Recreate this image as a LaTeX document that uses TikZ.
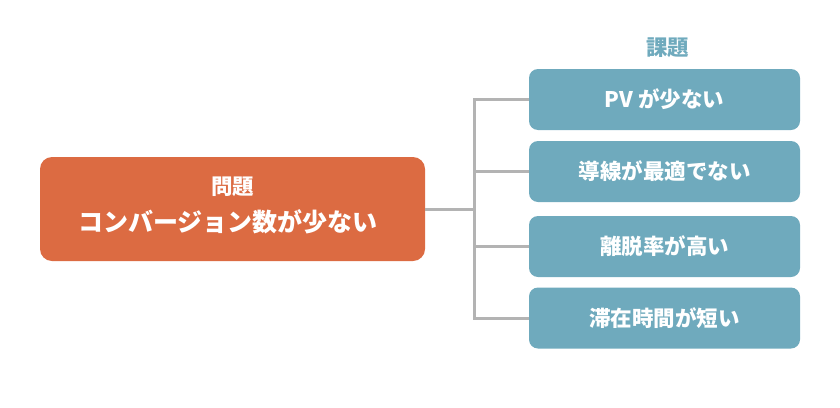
\documentclass[tikz,border=0pt]{standalone}
\usepackage{fontspec}
\newfontfamily\jp{Noto Sans CJK JP}
\definecolor{probcolor}{HTML}{DC6B42}
\definecolor{taskcolor}{HTML}{6FAABD}
\definecolor{linecolor}{HTML}{B3B3B3}
\tikzset{
  probbox/.style={fill=probcolor, rounded corners=12pt, minimum width=385pt, minimum height=104pt, inner sep=0pt},
  taskbox/.style={fill=taskcolor, rounded corners=9pt, minimum width=271pt, minimum height=61pt, inner sep=0pt,
    text=white, font=\jp\bfseries\fontsize{21.5}{25}\selectfont},
  conn/.style={draw=linecolor, line width=3pt}
}
\begin{document}
\begin{tikzpicture}[x=1pt, y=-1pt]

  \useasboundingbox (0,0) rectangle (840,407);

  % problem on the left
  \node[probbox] (prob) at (232.5,209) {};
  \node[text=white, font=\jp\bfseries\fontsize{21.5}{25}\selectfont] (probhead) at (232.5,187) {問題};
  \node[text=white, font=\jp\bfseries\fontsize{25}{29}\selectfont] (probtext) at (228,222) {コンバージョン数が少ない};

  % tasks on the right
  \node[text=taskcolor, font=\jp\bfseries\fontsize{21.5}{25}\selectfont] (taskhead) at (667.5,48) {課題};
  \node[taskbox] (task1) at (664.5,99.5) {PV が少ない};
  \node[taskbox] (task2) at (664.5,171.5) {導線が最適でない};
  \node[taskbox] (task3) at (664.5,246.5) {離脱率が高い};
  \node[taskbox] (task4) at (664.5,318) {滞在時間が短い};

  \coordinate (hub) at (474,209);

  \draw[conn] (prob.east) -- (hub);
  \draw[conn] (hub) |- (task1.west);
  \draw[conn] (hub) |- (task2.west);
  \draw[conn] (hub) |- (task3.west);
  \draw[conn] (hub) |- (task4.west);

\end{tikzpicture}
\end{document}
